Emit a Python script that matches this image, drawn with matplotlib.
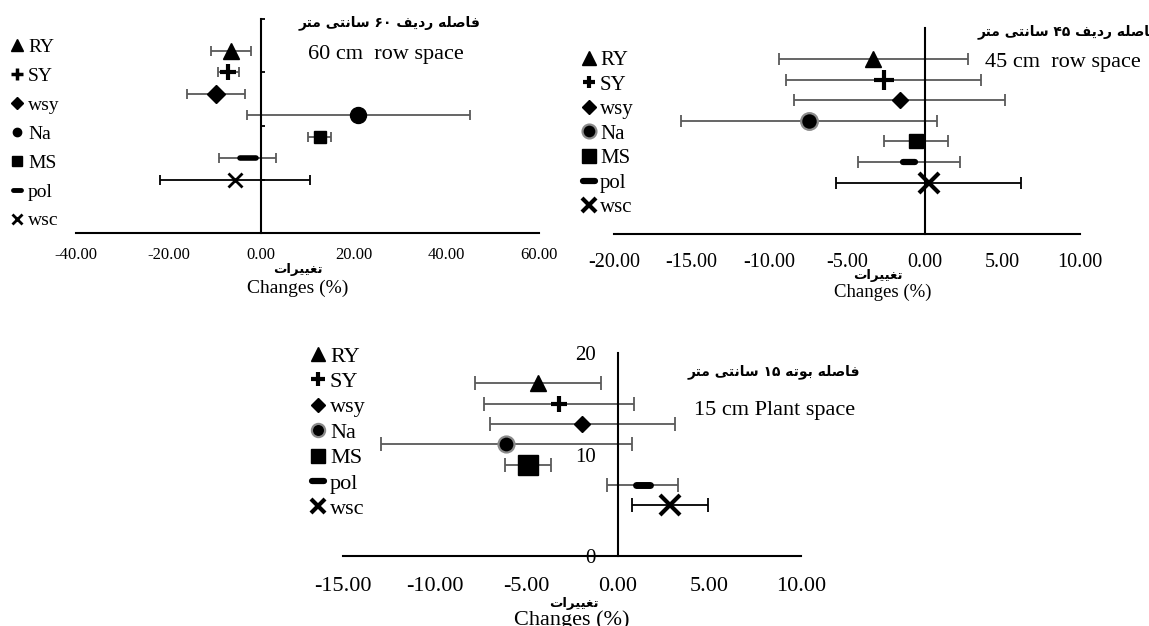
import matplotlib
matplotlib.use('Agg')
import matplotlib.pyplot as plt
from matplotlib.lines import Line2D
from matplotlib.markers import MarkerStyle

plt.rcParams['font.family'] = ['Liberation Serif', 'DejaVu Sans']

# داده ها
labels = ['RY', 'SY', 'wsy', 'Na', 'MS', 'pol', 'wsc']
ypos = [17, 15, 13, 11, 9, 7, 5]

row60 = [-6.5, -7.1, -9.8, 21.0, 12.6, -2.9, -5.6]
row60_err = [4.3, 2.3, 6.2, 24.0, 2.5, 6.2, 16.2]

row45 = [-3.3, -2.65, -1.6, -7.45, -0.55, -1.0, 0.25]
row45_err = [6.1, 6.25, 6.8, 8.25, 2.05, 3.3, 5.95]

plant15 = [-4.35, -3.2, -1.95, -6.1, -4.9, 1.35, 2.85]
plant15_err = [3.45, 4.1, 5.05, 6.85, 1.25, 1.95, 2.1]

xt60 = [-40, -20, 0, 20, 40, 60]
xt45 = [-20, -15, -10, -5, 0, 5, 10]
xt15 = [-15, -10, -5, 0, 5, 10]

title60 = 'فاصله ردیف ۶۰ سانتی متر'
title45 = 'فاصله ردیف ۴۵ سانتی متر'
title15 = 'فاصله بوته ۱۵ سانتی متر'
xlab_fa = 'تغییرات'

# شکل دادن حروف فارسی (matplotlib خودش این کار را نمی کند)
DUAL = set('بتسصغفلمنه\u06cc')
FORMS = {
    'ا': ('\uFE8D', '\uFE8E', None, None),
    'ب': ('\uFE8F', '\uFE90', '\uFE91', '\uFE92'),
    'ت': ('\uFE95', '\uFE96', '\uFE97', '\uFE98'),
    'د': ('\uFEA9', '\uFEAA', None, None),
    'ر': ('\uFEAD', '\uFEAE', None, None),
    'س': ('\uFEB1', '\uFEB2', '\uFEB3', '\uFEB4'),
    'ص': ('\uFEB9', '\uFEBA', '\uFEBB', '\uFEBC'),
    'غ': ('\uFECD', '\uFECE', '\uFECF', '\uFED0'),
    'ف': ('\uFED1', '\uFED2', '\uFED3', '\uFED4'),
    'ل': ('\uFEDD', '\uFEDE', '\uFEDF', '\uFEE0'),
    'م': ('\uFEE1', '\uFEE2', '\uFEE3', '\uFEE4'),
    'ن': ('\uFEE5', '\uFEE6', '\uFEE7', '\uFEE8'),
    'ه': ('\uFEE9', '\uFEEA', '\uFEEB', '\uFEEC'),
    'و': ('\uFEED', '\uFEEE', None, None),
    '\u06cc': ('\uFEEF', '\uFEF0', '\uFEF3', '\uFEF4'),
}


def fa(s):
    s = s.replace('\u064a', '\u06cc').replace('\u0649', '\u06cc')
    words = []
    for w in s.split(' '):
        if not any(c in FORMS for c in w):
            words.append(w)
            continue
        out = []
        for i, c in enumerate(w):
            if c not in FORMS:
                out.append(c)
                continue
            prev = w[i - 1] if i > 0 else ''
            nxt = w[i + 1] if i + 1 < len(w) else ''
            jp = prev in DUAL
            jn = c in DUAL and nxt in FORMS
            iso, fin, ini, med = FORMS[c]
            out.append(med if jp and jn else fin if jp else ini if jn else iso)
        words.append(''.join(reversed(out)))
    return ' '.join(reversed(words))


W, H = 1149, 626
fig = plt.figure(figsize=(W / 100, H / 100), dpi=100)


def rect(x0, x1, ytop, ybot):
    return [x0 / W, 1 - ybot / H, (x1 - x0) / W, (ybot - ytop) / H]


def ftext(x, y, s, **kw):
    kw.setdefault('va', 'center')
    kw.setdefault('ha', 'center')
    fig.text(x / W, 1 - y / H, s, **kw)


pol_m = MarkerStyle('_', capstyle='round')
MARKERS = ['^', '+', 'D', 'o', 's', pol_m, 'x']
GRAY = '#595959'


def panel(ax, vals, errs, xticks, st):
    for i in range(len(labels)):
        ec = 'black' if labels[i] == 'wsc' else GRAY
        ax.errorbar(vals[i], ypos[i], xerr=errs[i], fmt='none', ecolor=ec,
                    elinewidth=st['elw'], capsize=st['cap'], capthick=st['elw'], zorder=2)
        mec = st['na_edge'] if labels[i] == 'Na' else 'black'
        ax.plot(vals[i], ypos[i], ls='none', marker=MARKERS[i], color='black',
                ms=st['ms'][i], mew=st['mew'][i], mec=mec, zorder=3)
    ax.set_xlim(xticks[0], xticks[-1])
    ax.set_ylim(0, 20)
    ax.set_xticks(xticks)
    ax.set_xticklabels(['%.2f' % t for t in xticks])
    for sp in ['top', 'right']:
        ax.spines[sp].set_visible(False)
    ax.spines['left'].set_position(('data', 0))
    for sp in ['left', 'bottom']:
        ax.spines[sp].set_linewidth(1.5)
    ax.tick_params(axis='x', length=0, pad=st['xpad'], labelsize=st['xfs'])
    ax.patch.set_alpha(0)

    handles = []
    for i in range(len(labels)):
        mec = st['na_edge'] if labels[i] == 'Na' else 'black'
        handles.append(Line2D([], [], ls='none', marker=MARKERS[i], color='black',
                              ms=st['lms'][i], mew=st['lmew'][i], mec=mec))
    lx, ly = st['leg']
    ax.legend(handles, labels, loc='upper left', bbox_to_anchor=(lx / W, 1 - ly / H),
              bbox_transform=fig.transFigure, frameon=False, borderpad=0, borderaxespad=0,
              handlelength=0.8, handletextpad=st['htp'], labelspacing=st['ls'],
              prop={'family': 'Liberation Serif', 'size': st['lfs']})


st60 = dict(elw=1.3, cap=3.6, na_edge='black', xpad=9.8, xfs=12,
            ms=[12, 11, 9, 11.5, 8, 11, 9.5], mew=[1, 3, 1, 1, 1, 4, 2],
            lms=[8, 8, 6.5, 6, 7, 6, 7], lmew=[1, 2.5, 1, 1, 1, 3.5, 2],
            leg=(9.2, 38.5), htp=0.167, ls=0.58, lfs=14)
st45 = dict(elw=1.3, cap=4.3, na_edge='#8a8a8a', xpad=14, xfs=14.5,
            ms=[12, 14, 8.5, 12, 9.5, 9, 14], mew=[1, 3, 1, 1.6, 1, 4.5, 3],
            lms=[10, 9, 7.5, 10, 10, 9, 10], lmew=[1, 3, 1, 1.6, 1, 4.5, 3],
            leg=(580.7, 50.4), htp=0.127, ls=0.24, lfs=15)
st15 = dict(elw=1.3, cap=4.7, na_edge='#8a8a8a', xpad=15, xfs=16,
            ms=[12, 12, 8.5, 11.5, 14, 10, 14], mew=[1, 3, 1, 1.6, 1, 5, 3],
            lms=[9.5, 9.5, 7, 9.5, 10, 9, 10], lmew=[1, 3, 1, 1.6, 1, 4.5, 3],
            leg=(309.1, 346), htp=0.14, ls=0.22, lfs=16)

ax1 = fig.add_axes(rect(76, 539, 19, 233))
panel(ax1, row60, row60_err, xt60, st60)
ax1.set_yticks([0, 5, 10, 15, 20])
ax1.tick_params(axis='y', direction='in', length=3, width=1.3, labelleft=False)

ax2 = fig.add_axes(rect(614, 1080, 28, 234))
panel(ax2, row45, row45_err, xt45, st45)
ax2.set_yticks([])

ax3 = fig.add_axes(rect(343, 801, 353, 556))
panel(ax3, plant15, plant15_err, xt15, st15)
ax3.set_yticks([0, 10, 20])
ax3.tick_params(axis='y', length=0, pad=16, labelsize=15)

# عنوان ها
fa_font = dict(family=['DejaVu Sans'], weight='bold')
ftext(390, 23, fa(title60), fontsize=10, **fa_font)
ftext(386, 55, '60 cm  row space', fontsize=16)
ftext(978, 32, fa(title45), fontsize=10, ha='left', **fa_font)
ftext(985, 63, '45 cm  row space', fontsize=16, ha='left')
ftext(774, 372, fa(title15), fontsize=10, **fa_font)
ftext(775, 410, '15 cm Plant space', fontsize=16)

# برچسب محور
ftext(298, 270, fa(xlab_fa), fontsize=9.5, **fa_font)
ftext(298, 288, 'Changes (%)', fontsize=14)
ftext(878, 275, fa(xlab_fa), fontsize=9.5, **fa_font)
ftext(883, 292, 'Changes (%)', fontsize=13.5)
ftext(574, 603, fa(xlab_fa), fontsize=9.5, **fa_font)
ftext(572, 620, 'Changes (%)', fontsize=16)

fig.savefig('out.png', dpi=100)
